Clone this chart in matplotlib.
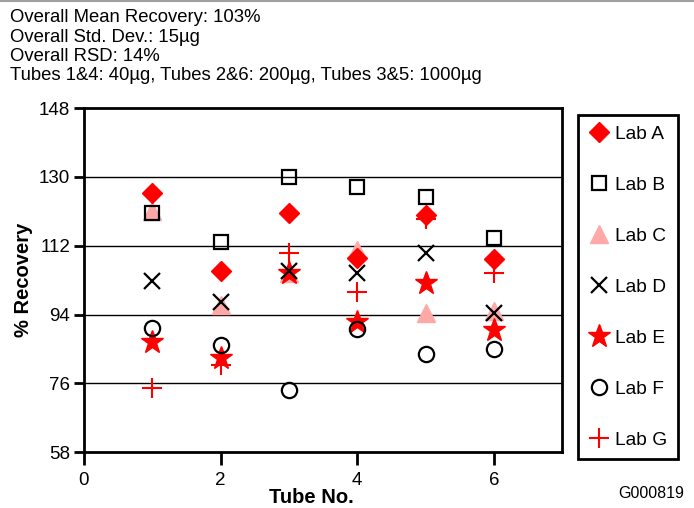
import matplotlib.pyplot as plt
from matplotlib.lines import Line2D

plt.rcParams['font.family'] = ['Liberation Sans', 'DejaVu Sans']

# Data
tubes = [1, 2, 3, 4, 5, 6]
lab_a = [125.8, 105.4, 120.5, 108.8, 120.0, 108.5]
lab_b = [120.5, 113.0, 130.0, 127.3, 124.7, 114.0]
lab_c = [121.0, 96.5, 105.0, 111.0, 94.4, 95.0]
lab_d = [102.7, 97.2, 105.4, 104.8, 110.0, 94.4]
lab_e = [86.8, 82.6, 105.0, 92.0, 102.2, 90.0]
lab_f = [90.4, 86.0, 74.2, 90.2, 83.6, 85.0]
lab_g = [74.7, 80.8, 110.0, 100.0, 119.0, 105.0]

summary_lines = [
    "Overall Mean Recovery: 103%",
    "Overall Std. Dev.: 15\u00b5g",
    "Overall RSD: 14%",
    "Tubes 1&4: 40\u00b5g, Tubes 2&6: 200\u00b5g, Tubes 3&5: 1000\u00b5g",
]

fig = plt.figure(figsize=(6.94, 5.08), dpi=100)
ax = fig.add_axes([0.121, 0.110, 0.689, 0.677])

red = '#FF0000'
pink = '#FFA8A8'

ax.plot(tubes, lab_c, ls='none', marker='^', ms=13, color=pink, mec=pink, label='Lab C', zorder=3)
ax.plot(tubes, lab_a, ls='none', marker='D', ms=10, color=red, mec=red, label='Lab A', zorder=4)
ax.plot(tubes, lab_b, ls='none', marker='s', ms=10, mfc='none', mec='black', mew=1.6, label='Lab B', zorder=5)
ax.plot(tubes, lab_d, ls='none', marker='x', ms=11, mec='black', mew=1.6, label='Lab D', zorder=5)
ax.plot(tubes, lab_e, ls='none', marker='*', ms=17, color=red, mec=red, label='Lab E', zorder=4)
ax.plot(tubes, lab_f, ls='none', marker='o', ms=11, mfc='none', mec='black', mew=1.6, label='Lab F', zorder=5)
ax.plot(tubes, lab_g, ls='none', marker='+', ms=15, mec=red, mew=1.5, label='Lab G', zorder=4)

ax.set_xlim(0, 7)
ax.set_ylim(58, 148)
ax.set_xticks([0, 2, 4, 6])
ax.set_yticks([58, 76, 94, 112, 130, 148])
for y in [76, 94, 112, 130]:
    ax.axhline(y, color='black', lw=1.0, zorder=1)

for s in ax.spines.values():
    s.set_linewidth(2)
ax.tick_params(axis='both', labelsize=13.5, width=2, direction='out')
ax.tick_params(axis='x', length=9, pad=5)
ax.tick_params(axis='y', length=7, pad=3)
ax.set_xlabel('Tube No.', fontsize=14.5, fontweight='bold')
ax.xaxis.set_label_coords((311 - 84) / 478, -0.105)
ax.set_ylabel('% Recovery', fontsize=14.5, fontweight='bold', labelpad=4)

handles, labels = ax.get_legend_handles_labels()
order = ['Lab A', 'Lab B', 'Lab C', 'Lab D', 'Lab E', 'Lab F', 'Lab G']
hmap = dict(zip(labels, handles))
leg = fig.legend([hmap[k] for k in order], order, loc='upper left',
                 bbox_to_anchor=(578 / 694, 1 - 115 / 508), fontsize=13.8,
                 labelspacing=1.75, handlelength=1.1, handletextpad=0.3,
                 borderpad=0.55, borderaxespad=0, fancybox=False, framealpha=1)
leg.get_frame().set_edgecolor('black')
leg.get_frame().set_linewidth(2)

# thin grey rule along the top edge
fig.add_artist(Line2D([0, 1], [0.998, 0.998], transform=fig.transFigure, color='#A0A0A0', lw=1.5))

for i, line in enumerate(summary_lines):
    fig.text(0.015, 1 - (18 + i * 19.3) / 508, line, fontsize=13.3, va='center', ha='left')

fig.text(618 / 694, 1 - 493 / 508, 'G000819', fontsize=11.5, ha='left', va='center')

fig.savefig('out.png', dpi=100)
